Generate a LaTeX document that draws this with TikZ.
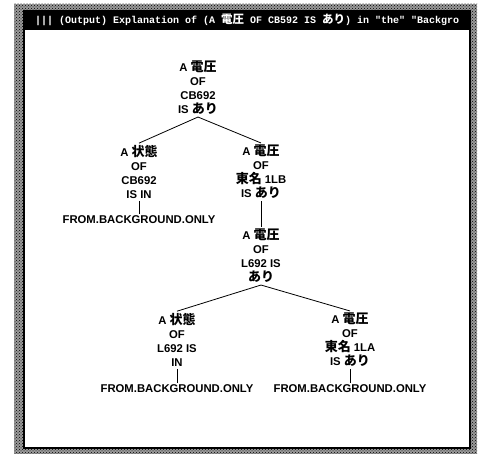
\documentclass[tikz,border=0pt]{standalone}
\usepackage{fontspec}
\setmainfont{Liberation Sans}
\newfontfamily\jpfont[Scale=1.15]{Noto Sans CJK JP}
\newfontfamily\titlefont{Liberation Mono}
\usetikzlibrary{positioning,patterns}
\newcommand{\jp}[1]{{\jpfont #1}}

\tikzset{
  term/.style={align=center, font=\fontsize{11.3}{14}\selectfont\bfseries, inner sep=2pt},
  leaf/.style={font=\fontsize{11.3}{14}\selectfont\bfseries, inner sep=2pt},
  link/.style={line width=0.8pt}
}

\begin{document}
\begin{tikzpicture}[x=1pt,y=-1pt]
\useasboundingbox (0,0) rectangle (480,454);

% window frame
\fill[black!40] (14,4) rectangle (477,454);
\fill[pattern=crosshatch dots, pattern color=black] (14,4) rectangle (477,454);
\fill (23,10) rectangle (471,29);
\draw[line width=2pt, fill=white] (24,29) rectangle (470,448);
\begin{scope}
  \clip (23,10) rectangle (467,29);
  \node[anchor=west, text=white, font=\titlefont\fontsize{10}{12}\selectfont\bfseries, inner sep=0pt] (title) at (35,20)
    {||| (Output) Explanation of (A \jp{電圧} OF CB592 IS \jp{あり}) in "the" "Backgro};
\end{scope}

% tree
\node[term] (root) at (198,88) {A \jp{電圧}\\OF\\CB692\\IS \jp{あり}};
\node[term] (l1) at (139,172) {A \jp{状態}\\OF\\CB692\\IS IN};
\node[term] (r1) at (261,172) {A \jp{電圧}\\OF\\\jp{東名} 1LB\\IS \jp{あり}};
\node[term] (mid) at (261,256) {A \jp{電圧}\\OF\\L692 IS\\\jp{あり}};
\node[term] (l2) at (177,340) {A \jp{状態}\\OF\\L692 IS\\IN};
\node[term] (r2) at (350,340) {A \jp{電圧}\\OF\\\jp{東名} 1LA\\IS \jp{あり}};
\node[leaf] (f1) at (139,220) {FROM.BACKGROUND.ONLY};
\node[leaf] (f2) at (177,389) {FROM.BACKGROUND.ONLY};
\node[leaf] (f3) at (350,389) {FROM.BACKGROUND.ONLY};

\draw[link] (root.south) -- (l1.north);
\draw[link] (root.south) -- (r1.north);
\draw[link] (l1.south) -- (f1.north);
\draw[link] (r1.south) -- (mid.north);
\draw[link] (mid.south) -- (l2.north);
\draw[link] (mid.south) -- (r2.north);
\draw[link] (l2.south) -- (f2.north);
\draw[link] (r2.south) -- (f3.north);

\end{tikzpicture}
\end{document}
